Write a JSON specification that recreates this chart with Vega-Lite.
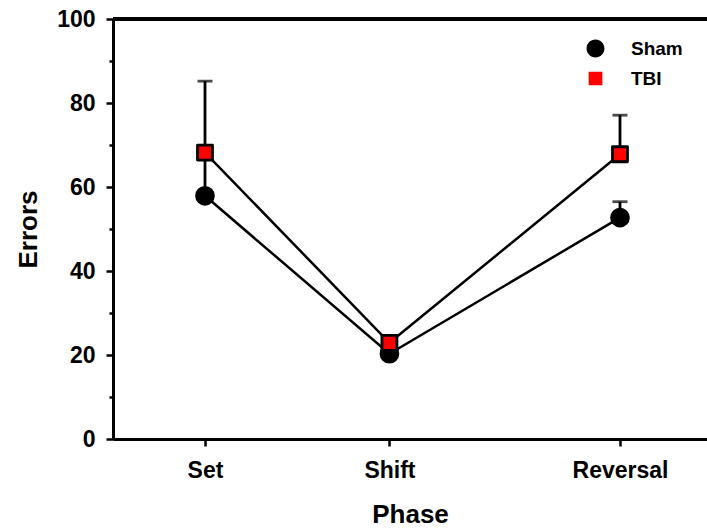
{
  "$schema": "https://vega.github.io/schema/vega-lite/v6.json",
  "autosize": "none",
  "width": 594,
  "height": 420,
  "padding": {"left": 113, "top": 19, "right": 0, "bottom": 90},
  "background": "white",
  "config": {
    "view": {"stroke": null},
    "font": "Liberation Sans",
    "axis": {
      "grid": false,
      "domainColor": "black",
      "domainWidth": 3,
      "tickColor": "black",
      "tickWidth": 2.5,
      "labelFont": "Liberation Sans",
      "labelFontWeight": "bold",
      "labelFontSize": 23,
      "labelColor": "black",
      "titleFont": "Liberation Sans",
      "titleFontWeight": "bold",
      "titleFontSize": 26,
      "titleColor": "black"
    },
    "legend": {
      "title": null,
      "orient": "none",
      "legendX": 467,
      "legendY": 14,
      "padding": 0,
      "symbolSize": 784,
      "symbolOpacity": 1,
      "symbolStrokeColor": "black",
      "symbolStrokeWidth": 2.7,
      "labelFont": "Liberation Sans",
      "labelFontWeight": "bold",
      "labelFontSize": 19,
      "labelColor": "black",
      "labelOffset": 20,
      "rowPadding": 0
    }
  },
  "data": {
    "values": [
      {"group": "Sham", "phase": "Set", "x": 1, "mean": 57.9, "upper": 67.5},
      {"group": "Sham", "phase": "Shift", "x": 5, "mean": 20.3, "upper": 22.0},
      {"group": "Sham", "phase": "Reversal", "x": 10, "mean": 52.7, "upper": 56.5},
      {"group": "TBI", "phase": "Set", "x": 1, "mean": 68.2, "upper": 85.2},
      {"group": "TBI", "phase": "Shift", "x": 5, "mean": 22.9, "upper": 24.5},
      {"group": "TBI", "phase": "Reversal", "x": 10, "mean": 67.8, "upper": 77.1}
    ]
  },
  "encoding": {
    "x": {
      "field": "x",
      "type": "quantitative",
      "scale": {"domain": [-0.995, 11.887], "nice": false, "zero": false},
      "axis": {
        "title": "Phase",
        "values": [1, 5, 10],
        "labelExpr": "datum.value == 1 ? 'Set' : datum.value == 5 ? 'Shift' : 'Reversal'",
        "tickSize": 7,
        "labelPadding": 13,
        "titlePadding": 19,
        "labelFlush": false
      }
    },
    "y": {
      "field": "mean",
      "type": "quantitative",
      "scale": {"domain": [0, 100], "nice": false},
      "axis": {
        "title": "Errors",
        "values": [0, 10, 20, 30, 40, 50, 60, 70, 80, 90, 100],
        "labelExpr": "datum.value % 20 === 0 ? datum.label : ''",
        "tickSize": {"condition": {"test": "datum.value % 20 !== 0", "value": 4}, "value": 7},
        "labelPadding": 11,
        "titlePadding": 15
      }
    }
  },
  "layer": [
    {
      "mark": {"type": "rule", "color": "black", "strokeWidth": 3},
      "encoding": {"x": null, "y": {"datum": 100, "type": "quantitative"}}
    },
    {
      "mark": {"type": "line", "color": "black", "strokeWidth": 2.5},
      "encoding": {"detail": {"field": "group", "type": "nominal"}}
    },
    {
      "mark": {"type": "rule", "color": "black", "strokeWidth": 2.8},
      "encoding": {"y2": {"field": "upper"}}
    },
    {
      "mark": {"type": "point", "shape": "M-1,0H1", "filled": false, "stroke": "black", "strokeWidth": 2.8, "size": 225},
      "encoding": {"y": {"field": "upper", "type": "quantitative"}}
    },
    {
      "transform": [{"filter": "datum.group === 'Sham'"}],
      "mark": {"type": "point", "shape": "circle", "filled": true, "fill": "black", "opacity": 1, "stroke": "black", "strokeWidth": 1.5, "size": 330}
    },
    {
      "transform": [{"filter": "datum.group === 'TBI'"}],
      "mark": {"type": "point", "shape": "square", "filled": true, "fill": "#FF0000", "opacity": 1, "stroke": "black", "strokeWidth": 2.8, "strokeJoin": "round", "size": 225}
    },
    {
      "mark": {"type": "point", "filled": true, "opacity": 0, "stroke": "black", "strokeWidth": 2.7, "size": 784},
      "encoding": {
        "shape": {
          "field": "group",
          "type": "nominal",
          "scale": {"domain": ["Sham", "TBI"], "range": ["M-1.68,0H-0.64M0.64,0H1.68M0.64,0A0.64,0.64,0,1,1,-0.64,0A0.64,0.64,0,1,1,0.64,0Z", "M-1.68,0H-0.49M0.49,0H1.68M-0.49,-0.49H0.49V0.49H-0.49Z"]},
          "legend": {"symbolStrokeColor": "black", "symbolStrokeWidth": 2.7, "symbolSize": 784}
        },
        "fill": {
          "field": "group",
          "type": "nominal",
          "scale": {"domain": ["Sham", "TBI"], "range": ["black", "#FF0000"]},
          "legend": {"symbolStrokeColor": "black", "symbolStrokeWidth": 2.7, "symbolSize": 784}
        }
      }
    }
  ]
}
